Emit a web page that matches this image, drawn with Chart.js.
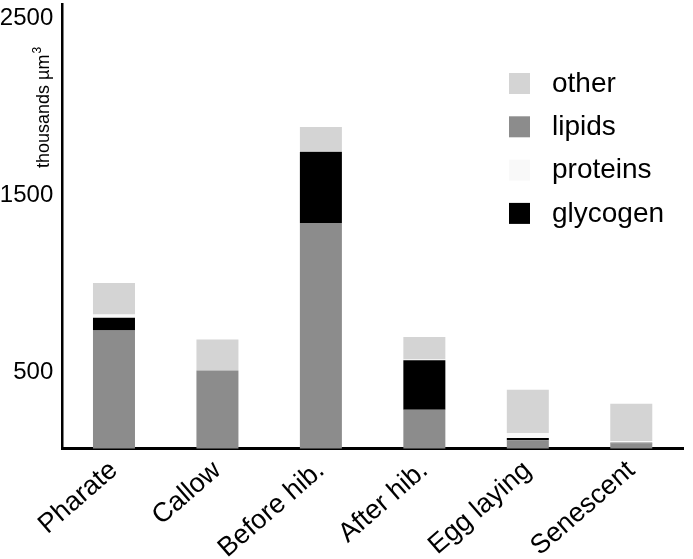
<!DOCTYPE html>
<html>
<head>
<meta charset="utf-8">
<script src="https://cdn.jsdelivr.net/npm/chart.js@4.4.1/dist/chart.umd.min.js"></script>
<style>
  html, body { margin: 0; padding: 0; background: #fff; }
  #wrap { width: 693px; height: 559px; }
</style>
</head>
<body>
<div id="wrap"><canvas id="myChart" width="693" height="559"></canvas></div>
<script>
// values in thousands of µm3
const categories = ['Pharate', 'Callow', 'Before hib.', 'After hib.', 'Egg laying', 'Senescent'];
const lipids = [737, 511, 1343, 289, 116, 99];
const glycogen = [72, 0, 402, 279, 13, 3];
const proteins = [17, 0, 4, 4, 28, 10];
const other = [178, 175, 137, 127, 245, 211];
const yTicks = [500, 1500, 2500];
const legendOrder = ['other', 'lipids', 'proteins', 'glycogen'];

const FONT = "'Liberation Sans', Arial, sans-serif";
Chart.defaults.font.family = FONT;
Chart.defaults.color = '#000';

// legend drawn by hand so it sits inside the plot like the original
const legendBox = {
  id: 'legendBox',
  afterDraw(chart) {
    const ctx = chart.ctx;
    ctx.save();
    ctx.font = '28px ' + FONT;
    ctx.textBaseline = 'middle';
    legendOrder.forEach((name, i) => {
      const ds = chart.data.datasets.find(d => d.label === name);
      const y = 73 + i * 43.3;
      ctx.fillStyle = ds.backgroundColor;
      ctx.fillRect(509, y, 21, 21);
      ctx.fillStyle = '#000';
      ctx.fillText(name, 552, y + 11);
    });
    ctx.restore();
  }
};

// y title with the superscript, up in the top left corner
const yTitle = {
  id: 'yTitle',
  afterDraw(chart) {
    const ctx = chart.ctx;
    ctx.save();
    ctx.translate(49, 168);
    ctx.rotate(-Math.PI / 2);
    ctx.fillStyle = '#000';
    ctx.font = '18px ' + FONT;
    ctx.textBaseline = 'alphabetic';
    const txt = 'thousands \u00b5m';
    ctx.fillText(txt, 0, 0);
    const w = ctx.measureText(txt).width;
    ctx.font = '12px ' + FONT;
    ctx.fillText('3', w + 1, -8);
    ctx.restore();
  }
};

new Chart(document.getElementById('myChart').getContext('2d'), {
  type: 'bar',
  data: {
    labels: categories,
    datasets: [
      { label: 'lipids', data: lipids, backgroundColor: '#8c8c8c' },
      { label: 'glycogen', data: glycogen, backgroundColor: '#000000' },
      { label: 'proteins', data: proteins, backgroundColor: '#f9f9f9' },
      { label: 'other', data: other, backgroundColor: '#d4d4d4' }
    ]
  },
  options: {
    responsive: false,
    animation: false,
    layout: { padding: { top: 4, left: 0, right: 10, bottom: 0 } },
    datasets: {
      bar: { barPercentage: 0.406, categoryPercentage: 1, borderWidth: 0 }
    },
    plugins: {
      legend: { display: false },
      tooltip: { enabled: false }
    },
    scales: {
      x: {
        stacked: true,
        grid: { display: false, drawTicks: false },
        border: { display: true, color: '#000', width: 3 },
        ticks: {
          autoSkip: false,
          minRotation: 41,
          maxRotation: 41,
          padding: 6,
          color: '#000',
          font: { size: 27 }
        },
        afterFit(scale) {
          scale.height = 110.5;
          scale.paddingLeft = 0;
          scale.paddingRight = 0;
        }
      },
      y: {
        stacked: true,
        min: 70,
        max: 2580,
        grid: { display: false, drawTicks: false },
        border: { display: true, color: '#000', width: 2.5 },
        ticks: {
          padding: 9,
          color: '#000',
          font: { size: 24 },
          callback: v => String(v)
        },
        afterBuildTicks(scale) {
          scale.ticks = yTicks.map(v => ({ value: v }));
        },
        afterFit(scale) {
          scale.width = 62.25;
          scale.paddingTop = 0;
          scale.paddingBottom = 0;
        }
      }
    }
  },
  plugins: [legendBox, yTitle]
});
</script>
</body>
</html>
